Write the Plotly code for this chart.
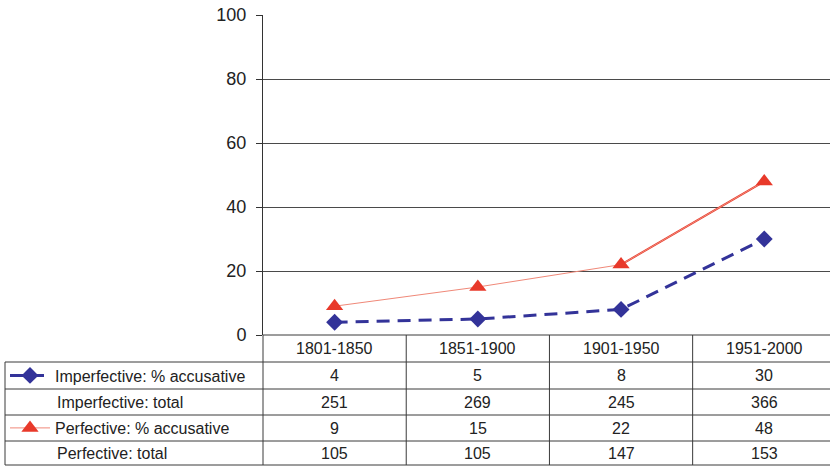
import plotly.graph_objects as go

categories = ["1801-1850", "1851-1900", "1901-1950", "1951-2000"]
imperf_pct = [4, 5, 8, 30]
imperf_total = [251, 269, 245, 366]
perf_pct = [9, 15, 22, 48]
perf_total = [105, 105, 147, 153]
y_ticks = [0, 20, 40, 60, 80, 100]

W, H = 830, 466
L, R, T, B = 263, 0, 15, 131
PW, PH = W - L - R, H - T - B

def px(xp):
    return (xp - L) / PW

def py(yp):
    return (H - B - yp) / PH

BLUE = "#333399"
RED = "#E8392A"
GRID = "#4a4a4a"
FONT = "Liberation Sans, Arial, sans-serif"
xs = list(range(len(categories)))

fig = go.Figure()
fig.add_trace(go.Scatter(x=xs[2:], y=perf_pct[2:], mode="lines",
                         line=dict(color=RED, width=2), showlegend=False, hoverinfo="skip"))
fig.add_trace(go.Scatter(x=xs, y=perf_pct, mode="lines+markers", name="Perfective: % accusative",
                         line=dict(color="#F08878", width=1),
                         marker=dict(symbol="triangle-up", size=15, color=RED),
                         legend="legend2"))
fig.add_trace(go.Scatter(x=xs, y=imperf_pct, mode="lines+markers", name="Imperfective: % accusative",
                         line=dict(color=BLUE, width=3, dash="13px,8px"),
                         marker=dict(symbol="diamond", size=13, color=BLUE),
                         legend="legend"))

shapes = []
line_style = dict(color="#3a3a3a", width=1)
shapes.append(dict(type="line", xref="paper", yref="paper", x0=0, x1=1, y0=py(335), y1=py(335), line=line_style))
row_y = [362, 389, 415, 441, 465]
for yy in row_y:
    shapes.append(dict(type="line", xref="paper", yref="paper", x0=px(5), x1=1, y0=py(yy), y1=py(yy), line=line_style))
shapes.append(dict(type="line", xref="paper", yref="paper", x0=px(5), x1=px(5), y0=py(362), y1=py(465), line=line_style))
shapes.append(dict(type="line", xref="paper", yref="paper", x0=0, x1=0, y0=py(335), y1=py(465), line=line_style))
for i in range(1, len(categories)):
    shapes.append(dict(type="line", xref="x", yref="paper", x0=i - 0.5, x1=i - 0.5, y0=py(335), y1=py(465), line=line_style))

annotations = []
tfont = dict(family=FONT, size=16, color="#222")
header_c = (335 + 362) / 2
row_c = [(row_y[i] + row_y[i + 1]) / 2 for i in range(4)]
for i, c in enumerate(categories):
    annotations.append(dict(x=i, y=py(header_c), xref="x", yref="paper", text=c, showarrow=False,
                            yanchor="middle", xanchor="center", font=tfont))
rows = [imperf_pct, imperf_total, perf_pct, perf_total]
for r, vals in enumerate(rows):
    for i, v in enumerate(vals):
        annotations.append(dict(x=i, y=py(row_c[r]), xref="x", yref="paper", text=str(v), showarrow=False,
                                yanchor="middle", xanchor="center", font=tfont))
for r, lab in [(1, "Imperfective: total"), (3, "Perfective: total")]:
    annotations.append(dict(x=px(55), y=py(row_c[r]), xref="paper", yref="paper", text=lab, showarrow=False,
                            xanchor="left", yanchor="middle", font=tfont))

fig.update_layout(
    width=W, height=H,
    margin=dict(l=L, r=R, t=T, b=B),
    paper_bgcolor="white", plot_bgcolor="white",
    font=dict(family=FONT, color="#222"),
    xaxis=dict(range=[-0.5, 3.459], showgrid=False, showticklabels=False, showline=False,
               zeroline=False, fixedrange=True),
    yaxis=dict(range=[0, 100], tickvals=y_ticks, showgrid=True, gridcolor=GRID, gridwidth=1,
               showline=True, linecolor="#333", linewidth=1, ticks="outside", ticklen=6,
               tickcolor="#333", tickfont=dict(family=FONT, size=18, color="#222"),
               zeroline=False, ticklabelstandoff=6),
    legend=dict(x=px(5), y=py(row_c[0]), xanchor="left", yanchor="middle", bgcolor="rgba(0,0,0,0)",
                font=tfont, itemwidth=40, borderwidth=0),
    legend2=dict(x=px(5), y=py(row_c[2]), xanchor="left", yanchor="middle", bgcolor="rgba(0,0,0,0)",
                 font=tfont, itemwidth=40, borderwidth=0),
    shapes=shapes, annotations=annotations,
)

fig.write_html("out.html", config={"displayModeBar": False},
               post_script="document.body.style.margin='0';document.body.style.overflow='hidden';")
